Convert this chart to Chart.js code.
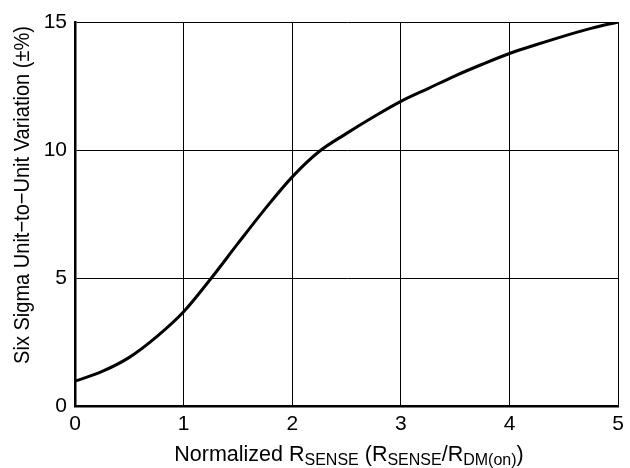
<!DOCTYPE html>
<html>
<head>
  <title>Six Sigma Unit-to-Unit Variation</title>
  <script src="https://cdn.jsdelivr.net/npm/chart.js"></script>
  <style>
    body { margin: 0; background: #fff; }
    #wrap { position: relative; width: 630px; height: 468px; }
    .axisTitle {
      position: absolute; white-space: nowrap; text-align: center; color: #000;
      font-family: "Liberation Sans", Arial, sans-serif;
    }
    #xTitle { left: 75px; width: 548px; top: 444px; font-size: 21.5px; line-height: 21px; }
    #yTitle {
      left: -178px; width: 400px; top: 184px; font-size: 22px; line-height: 22px;
      transform: rotate(-90deg) scaleX(0.91);
    }
    .axisTitle sub { font-size: 16px; line-height: 0; vertical-align: -4px; }
  </style>
</head>
<body>
  <div id="wrap">
    <canvas id="variationChart" width="630" height="468"></canvas>
    <div class="axisTitle" id="xTitle">Normalized R<sub>SENSE</sub> (R<sub>SENSE</sub>/R<sub>DM(on)</sub>)</div>
    <div class="axisTitle" id="yTitle">Six Sigma Unit&minus;to&minus;Unit Variation (&plusmn;%)</div>
  </div>

  <script>
    // values, every 0.25
    const rsense = [0, 0.25, 0.5, 0.75, 1, 1.25, 1.5, 1.75, 2, 2.25, 2.5, 2.75, 3, 3.25, 3.5, 3.75, 4, 4.25, 4.5, 4.75, 5];
    const variation = [0.97, 1.35, 1.9, 2.7, 3.68, 4.97, 6.35, 7.7, 8.95, 9.95, 10.65, 11.3, 11.9, 12.4, 12.9, 13.35, 13.77, 14.12, 14.45, 14.75, 15.0];
    const xTicks = [0, 1, 2, 3, 4, 5];
    const yTicks = [0, 5, 10, 15];

    const font = { family: '"Liberation Sans", Arial, sans-serif', size: 21 };

    const ctx = document.getElementById('variationChart').getContext('2d');
    new Chart(ctx, {
      type: 'line',
      data: {
        datasets: [{
          data: rsense.map((x, i) => ({ x: x, y: variation[i] })),
          borderColor: '#000',
          borderWidth: 3,
          pointRadius: 0,
          cubicInterpolationMode: 'monotone',
          fill: false
        }]
      },
      options: {
        responsive: false,
        animation: false,
        layout: { padding: { left: 0, right: 7, top: 22, bottom: 0 } },
        plugins: { legend: { display: false }, tooltip: { enabled: false } },
        scales: {
          x: {
            type: 'linear',
            min: 0,
            max: 5,
            afterBuildTicks: axis => { axis.ticks = xTicks.map(v => ({ value: v })); },
            afterFit: axis => { axis.height = 62; },
            grid: { color: '#000', lineWidth: 1, drawTicks: false },
            border: { color: '#000', width: 2.5 },
            ticks: { color: '#000', font: font, padding: 6, maxRotation: 0 }
          },
          y: {
            min: 0,
            max: 15,
            afterBuildTicks: axis => { axis.ticks = yTicks.map(v => ({ value: v })); },
            afterFit: axis => { axis.width = 75; },
            grid: { color: '#000', lineWidth: 1, drawTicks: false },
            border: { color: '#000', width: 2.5 },
            ticks: { color: '#000', font: font, padding: 8 }
          }
        }
      }
    });
  </script>
</body>
</html>
